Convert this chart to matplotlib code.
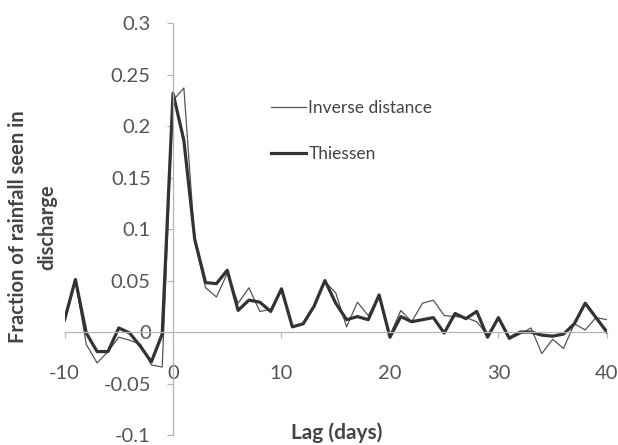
import matplotlib
matplotlib.use("Agg")
import matplotlib.pyplot as plt

plt.rcParams['font.family'] = ['Lato', 'DejaVu Sans']

# lag in days and fraction of rainfall seen in discharge
lags = list(range(-10, 41))
inverse_distance = [0.010, 0.050, -0.012, -0.030, -0.019, -0.005, -0.008, -0.012, -0.032, -0.034,
                    0.225, 0.237, 0.088, 0.043, 0.034, 0.057, 0.028, 0.043, 0.020, 0.022,
                    0.040, 0.005, 0.008, 0.025, 0.049, 0.038, 0.005, 0.029, 0.016, 0.035,
                    -0.003, 0.021, 0.010, 0.028, 0.031, 0.016, 0.015, 0.014, 0.010, -0.003,
                    0.014, -0.007, -0.002, 0.004, -0.021, -0.007, -0.016, 0.008, 0.002, 0.014,
                    0.012]
thiessen = [0.012, 0.051, -0.001, -0.019, -0.019, 0.004, -0.001, -0.014, -0.029, -0.002,
            0.232, 0.186, 0.090, 0.048, 0.047, 0.060, 0.021, 0.031, 0.029, 0.020,
            0.042, 0.005, 0.008, 0.025, 0.050, 0.028, 0.012, 0.015, 0.012, 0.036,
            -0.005, 0.015, 0.010, 0.012, 0.014, -0.001, 0.018, 0.013, 0.020, -0.005,
            0.014, -0.006, 0.000, 0.000, -0.003, -0.004, -0.002, 0.008, 0.028, 0.014,
            0.000]

xticks = [-10, 0, 10, 20, 30, 40]
yticks = [-0.1, -0.05, 0, 0.05, 0.1, 0.15, 0.2, 0.25, 0.3]
ytick_labels = ["-0.1", "-0.05", "0", "0.05", "0.1", "0.15", "0.2", "0.25", "0.3"]

fig = plt.figure(figsize=(6.18, 4.45), dpi=100)
ax = fig.add_axes([0.1045, 0.0225, 0.8775, 0.9255])

ax.plot(lags, inverse_distance, color="#555555", lw=0.9, label="Inverse distance")
ax.plot(lags, thiessen, color="#333333", lw=2.3, label="Thiessen")

ax.set_xlim(-10, 40)
ax.set_ylim(-0.1, 0.3)

# axes cross at the origin
ax.spines['left'].set_position(('data', 0))
ax.spines['bottom'].set_position(('data', 0))
ax.spines['right'].set_visible(False)
ax.spines['top'].set_visible(False)
for s in ('left', 'bottom'):
    ax.spines[s].set_color("#b5b5b5")
    ax.spines[s].set_linewidth(0.9)

ax.set_xticks(xticks)
ax.set_xticklabels([str(t) for t in xticks])
ax.set_yticks(yticks)
ax.set_yticklabels(ytick_labels)
ax.tick_params(axis='x', direction='out', length=4, width=0.8, color="#b5b5b5",
               pad=20, labelsize=14.5, labelcolor="#555555")
ax.tick_params(axis='y', direction='out', length=4, width=0.8, color="#b5b5b5",
               pad=12, labelsize=14.5, labelcolor="#555555")

fig.text(0.053, 0.49, "Fraction of rainfall seen in\ndischarge", rotation=90,
         ha='center', va='center', fontsize=14.5, fontweight='bold', color="#444444",
         linespacing=1.6)
fig.text(0.545, 0.027, "Lag (days)", ha='center', va='center', fontsize=15,
         fontweight='bold', color="#444444")

ax.legend(loc='upper left', bbox_to_anchor=(0.352, 0.852), frameon=False,
          fontsize=12.5, handlelength=2.0, handletextpad=0.15, labelspacing=1.75,
          labelcolor="#444444")

fig.savefig("out.png", dpi=100)
